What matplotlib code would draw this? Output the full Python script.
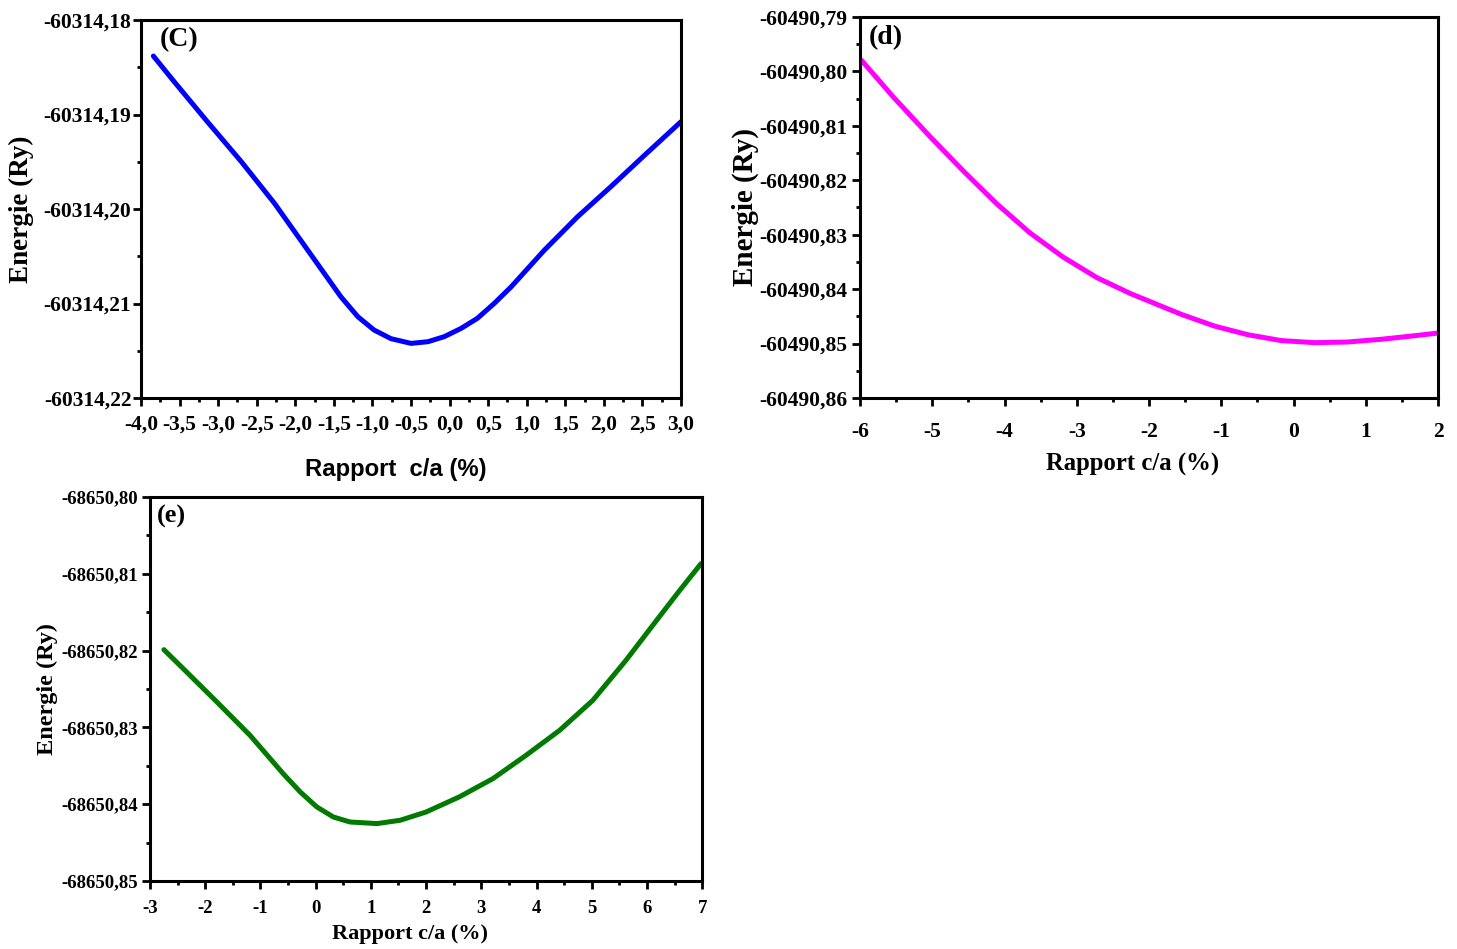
import numpy as np
import matplotlib
matplotlib.use("Agg")
from matplotlib import pyplot as plt
from matplotlib.ticker import MultipleLocator, FuncFormatter

# panel (C) : energie vs rapport c/a
xC = [-3.84, -3.57, -3.14, -2.70, -2.27, -1.84, -1.41, -1.19, -0.98, -0.76, -0.50, -0.28, -0.07,
      0.15, 0.36, 0.58, 0.80, 1.23, 1.66, 2.09, 2.53, 3.0]
eC = [-60314.18381, -60314.18653, -60314.19076, -60314.19499, -60314.19940, -60314.20434, -60314.20928,
      -60314.21139, -60314.21280, -60314.21372, -60314.21422, -60314.21404, -60314.21351, -60314.21263,
      -60314.21157, -60314.20998, -60314.20822, -60314.20434, -60314.20081, -60314.19764, -60314.19429,
      -60314.19076]

# panel (d)
xD = [-5.98, -5.54, -5.03, -4.57, -4.11, -3.65, -3.19, -2.72, -2.26, -1.55, -1.09, -0.63,
      -0.17, 0.29, 0.75, 1.22, 1.68, 2.0]
eD = [-60490.79796, -60490.80470, -60490.81200, -60490.81830, -60490.82430, -60490.82965, -60490.83410,
      -60490.83790, -60490.84080, -60490.84465, -60490.84680, -60490.84838, -60490.84945,
      -60490.84983, -60490.84971, -60490.84920, -60490.84855, -60490.84806]

# panel (e)
xE = [-2.75, -2.40, -1.79, -1.19, -0.59, -0.28, 0.02, 0.32, 0.62, 1.11, 1.53, 2.0, 2.60, 3.21,
      3.81, 4.42, 5.02, 5.62, 6.23, 6.59, 6.98]
eE = [-68650.81988, -68650.82235, -68650.82669, -68650.83103, -68650.83602, -68650.83841, -68650.84036,
      -68650.84167, -68650.84232, -68650.84253, -68650.84210, -68650.84102, -68650.83906, -68650.83668,
      -68650.83364, -68650.83038, -68650.82648, -68650.82127, -68650.81555, -68650.81220, -68650.80868]

serif = "Liberation Serif"

def comma(fmt):
    def f(v, p):
        s = fmt % v
        if s.startswith("-") and float(s) == 0:
            s = s[1:]
        return s.replace(".", ",")
    return FuncFormatter(f)

def style(ax, xfmt, xmaj, xmin, xpad, ypad, size):
    for s in ax.spines.values():
        s.set_linewidth(2.2)
    ax.xaxis.set_major_locator(MultipleLocator(xmaj))
    ax.xaxis.set_minor_locator(MultipleLocator(xmin))
    ax.yaxis.set_major_locator(MultipleLocator(0.01))
    ax.yaxis.set_minor_locator(MultipleLocator(0.005))
    ax.xaxis.set_major_formatter(comma(xfmt))
    ax.yaxis.set_major_formatter(comma("%.2f"))
    ax.tick_params(which="major", direction="out", length=6, width=2)
    ax.tick_params(which="minor", direction="out", length=3, width=2)
    ax.tick_params(axis="x", which="major", pad=xpad)
    ax.tick_params(axis="y", which="major", pad=ypad)
    for lab in ax.get_xticklabels() + ax.get_yticklabels():
        lab.set_fontfamily(serif)
        lab.set_fontweight("bold")
        lab.set_fontsize(size)

def ylab(ax, x, size):
    ax.set_ylabel("Energie (Ry)", fontfamily=serif, fontweight="bold", fontsize=size)
    ax.yaxis.set_label_coords(x, 0.5)

fig = plt.figure(figsize=(14.57, 9.49), dpi=100)

axC = fig.add_axes([0.0968, 0.5806, 0.3706, 0.3983])
axC.plot(xC, eC, color="#0000ff", lw=3.6, solid_capstyle="round", solid_joinstyle="round")
axC.set_xlim(-4.0, 3.0)
axC.set_ylim(-60314.22, -60314.18)
style(axC, "%.1f", 0.5, 0.25, 6, 1, 15.5)
axC.set_xlabel("Rapport  c/a (%)", fontfamily="Liberation Sans", fontweight="bold", fontsize=17.2, va="top")
axC.xaxis.set_label_coords(0.472, -0.158)
ylab(axC, -0.198, 19.5)
axC.text(0.035, 0.98, "(C)", transform=axC.transAxes, fontfamily=serif, fontweight="bold", fontsize=20, va="top")

axD = fig.add_axes([0.5903, 0.5806, 0.3967, 0.4015])
axD.plot(xD, eD, color="#ff00ff", lw=3.6, solid_capstyle="round", solid_joinstyle="round")
axD.set_xlim(-6, 2)
axD.set_ylim(-60490.86, -60490.79)
style(axD, "%d", 1, 0.5, 11, 3, 15.5)
axD.set_xlabel("Rapport c/a (%)", fontfamily=serif, fontweight="bold", fontsize=17.8, va="top")
axD.xaxis.set_label_coords(0.4706, -0.145)
ylab(axD, -0.175, 21)
axD.text(0.015, 0.98, "(d)", transform=axD.transAxes, fontfamily=serif, fontweight="bold", fontsize=20, va="top")

axE = fig.add_axes([0.1030, 0.0717, 0.3789, 0.4046])
axE.plot(xE, eE, color="#007a00", lw=3.6, solid_capstyle="round", solid_joinstyle="round")
axE.set_xlim(-3, 7)
axE.set_ylim(-68650.85, -68650.80)
style(axE, "%d", 1, 0.5, 8, 3, 13.5)
axE.set_xlabel("Rapport c/a (%)", fontfamily=serif, fontweight="bold", fontsize=16, va="top")
axE.xaxis.set_label_coords(0.471, -0.113)
ylab(axE, -0.167, 17.5)
axE.text(0.012, 0.98, "(e)", transform=axE.transAxes, fontfamily=serif, fontweight="bold", fontsize=19, va="top")

fig.savefig("out.png", dpi=100)
